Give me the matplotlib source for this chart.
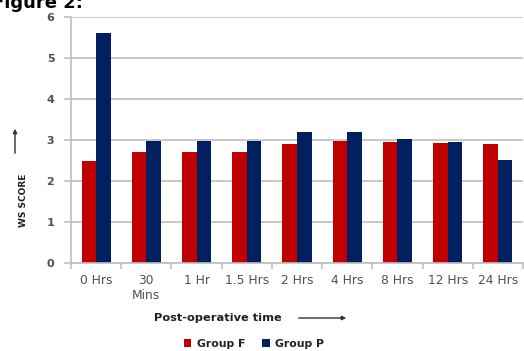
import matplotlib
matplotlib.use("Agg")
import matplotlib.pyplot as plt
import numpy as np

categories = ["0 Hrs", "30\nMins", "1 Hr", "1.5 Hrs", "2 Hrs", "4 Hrs", "8 Hrs", "12 Hrs", "24 Hrs"]
group_f = [2.49, 2.70, 2.70, 2.70, 2.90, 2.98, 2.95, 2.93, 2.90]
group_p = [5.60, 2.98, 2.98, 2.98, 3.20, 3.20, 3.02, 2.95, 2.51]
series_names = ["Group F", "Group P"]
y_ticks = [0, 1, 2, 3, 4, 5, 6]

red = "#C00000"
navy = "#002060"
grey = "#BFBFBF"
txt = "#505050"

fig = plt.figure(figsize=(5.24, 3.51), dpi=100)
ax = fig.add_axes([71 / 524, 1 - 263 / 351, 452 / 524, 246 / 351])

x = np.arange(len(categories))
w = 0.29
bf = ax.bar(x - w / 2, group_f, width=w, color=red, label=series_names[0])
bp = ax.bar(x + w / 2, group_p, width=w, color=navy, label=series_names[1])

ax.set_xlim(-0.5, len(categories) - 0.5)
ax.set_ylim(0, 6)
ax.set_yticks(y_ticks)
ax.yaxis.grid(True, color=grey, linewidth=1.2)
ax.set_axisbelow(True)

ax.set_xticks(x)
ax.set_xticklabels(categories, fontsize=8.8, color=txt, linespacing=1.15)
ax.set_xticks(np.arange(-0.5, len(categories)), minor=True)
ax.tick_params(axis="x", which="major", length=0, pad=8)
ax.tick_params(axis="x", which="minor", length=4, color=grey, width=1.2)
ax.tick_params(axis="y", length=5, color=grey, width=1.2, labelsize=8, labelcolor=txt, pad=7)
for lab in ax.get_yticklabels():
    lab.set_fontweight("bold")

for s in ["top", "right"]:
    ax.spines[s].set_visible(False)
ax.spines["left"].set_color(grey)
ax.spines["bottom"].set_color(grey)
ax.spines["left"].set_linewidth(1.2)
ax.spines["bottom"].set_linewidth(1.2)

# title, cut off at the top of the picture like in the source
fig.text(-8 / 524, 1 - 8 / 351, "Figure 2:", fontsize=13, fontweight="bold", va="baseline", ha="left")

# y label with arrow
fig.text(24 / 524, 1 - 200 / 351, "WS SCORE", rotation=90, fontsize=6.5, fontweight="bold",
         ha="center", va="center", color="#202020")
fig.patches.append(matplotlib.patches.FancyArrowPatch(
    (15 / 524, 1 - 156 / 351), (15 / 524, 1 - 126 / 351), transform=fig.transFigure,
    arrowstyle="-|>", mutation_scale=6, color="#303030", linewidth=1.0))

# x label with arrow
fig.text(218 / 524, 1 - 318 / 351, "Post-operative time", fontsize=8.2, fontweight="bold",
         ha="center", va="center", color="#202020")
fig.patches.append(matplotlib.patches.FancyArrowPatch(
    (296 / 524, 1 - 318 / 351), (349 / 524, 1 - 318 / 351), transform=fig.transFigure,
    arrowstyle="-|>", mutation_scale=6, color="#303030", linewidth=1.0))

leg = fig.legend(handles=[bf, bp], loc="center", bbox_to_anchor=(254 / 524, 1 - 344 / 351),
                 ncol=2, frameon=False, fontsize=7.8, handlelength=0.7, handleheight=0.7,
                 handletextpad=0.5, columnspacing=1.6, borderaxespad=0)
for t in leg.get_texts():
    t.set_fontweight("bold")
    t.set_color("#202020")

fig.savefig("out.png", dpi=100)
